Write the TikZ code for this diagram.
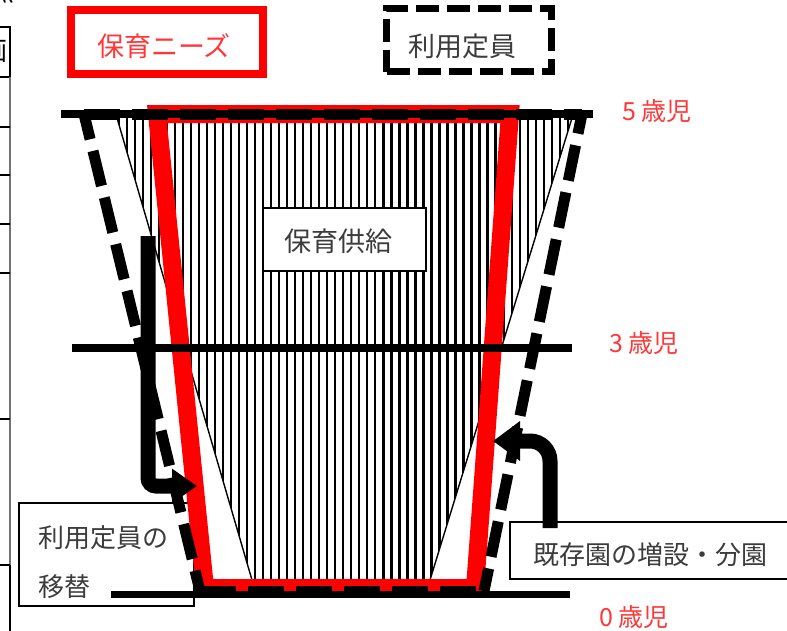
\documentclass[tikz,border=0pt]{standalone}
\usepackage{fontspec}
\setmainfont{Noto Sans CJK JP}
\usetikzlibrary{arrows.meta}
\definecolor{agered}{RGB}{255,55,55}
\definecolor{boxgray}{RGB}{60,60,60}
\definecolor{rulegray}{RGB}{115,115,115}
\tikzset{
  hatchline/.style={line width=2.3pt},
  thinside/.style={line width=1.4pt},
  needline/.style={draw=red, line width=18pt, line join=miter},
  capline/.style={line width=11pt, dash pattern=on 36pt off 12pt},
  agelabel/.style={text=agered, font=\fontsize{25}{30}\selectfont, inner sep=0pt},
  plainbox/.style={draw, line width=1.8pt, fill=white, text=boxgray, inner sep=0pt},
  bigarrow/.style={line width=15pt},
  tablerule/.style={line width=1.3pt},
}
\begin{document}
\begin{tikzpicture}[x=1pt,y=-1pt]
\useasboundingbox (0,0) rectangle (787,630);
\clip (0,0) rectangle (787,630);

% cut-off table at the left edge
\node[font=\fontsize{26}{30}\selectfont, inner sep=0pt] (cutA) at (2,-8) {点};
\node[font=\fontsize{26}{30}\selectfont, inner sep=0pt] (cutB) at (-5,51) {画};
\draw[line width=2pt] (-2,27) -- (10,27) -- (10,77) -- (-2,77);
\draw[rulegray, line width=1.8pt] (10,77) -- (10,565);
\draw[line width=2pt] (10,565) -- (10,632);
\foreach \yy in {127,175,224,273,419,565} \draw[tablerule] (-2,\yy) -- (10,\yy);

% hatched supply trapezoid
\coordinate (hTL) at (117,118);
\coordinate (hTR) at (572,118);
\coordinate (hBR) at (430,580);
\coordinate (hBL) at (252,580);
\begin{scope}
  \clip (hTL) -- (hTR) -- (hBR) -- (hBL) -- cycle;
  \foreach \k in {0,...,57} \draw[hatchline] ({118.7+8.02*\k},100) -- ++(0,500);
\end{scope}
\draw[thinside] (hTL) -- (hBL);
\draw[thinside] (hTR) -- (hBR);

% boxes
\node[draw=red, line width=8pt, minimum width=192pt, minimum height=64pt, inner sep=0pt,
      text=agered, font=\fontsize{27}{30}\selectfont] (needs) at (167,42)
      {\raisebox{-4pt}[\height][\depth]{\kern-6pt 保育ニーズ}};
\node[draw, line width=7pt, dash pattern=on 23pt off 8pt, minimum width=165pt, minimum height=63pt,
      inner sep=0pt, text=boxgray, font=\fontsize{27}{30}\selectfont] (usage) at (469,40)
      {\raisebox{-6pt}[\height][\depth]{\kern-13pt 利用定員}};
\node[plainbox, minimum width=163pt, minimum height=63pt, font=\fontsize{27}{30}\selectfont] (supply) at (344.5,239.5)
      {\raisebox{-1.5pt}[\height][\depth]{\kern-13pt 保育供給}};
\node[plainbox, minimum width=175pt, minimum height=103pt, font=\fontsize{26}{49}\selectfont] (transfer) at (106.5,554.5)
      {\raisebox{-8pt}[\height][\depth]{\parbox{137pt}{\raggedright 利用定員の\\移替}}};
\node[plainbox, minimum width=290pt, minimum height=57pt, font=\fontsize{26}{30}\selectfont] (expand) at (655,550.5)
      {\raisebox{-4.5pt}[\height][\depth]{\kern-10pt 既存園の増設・分園}};

% red needs trapezoid
\coordinate (rTL) at (157,114);
\coordinate (rTR) at (510,114);
\coordinate (rBR) at (475,588);
\coordinate (rBL) at (205,588);
\draw[needline] (rTL) -- (rTR) -- (rBR) -- (rBL) -- cycle;

% age rules
\coordinate (a5L) at (61,114);  \coordinate (a5R) at (593,114);
\coordinate (a3L) at (72,348);  \coordinate (a3R) at (572,348);
\coordinate (a0L) at (111,594); \coordinate (a0R) at (570,594);
\draw[line width=8pt] (a5L) -- (a5R);
\draw[line width=8pt] (a3L) -- (a3R);
\draw[line width=7pt] (a0L) -- (a0R);

% dashed capacity trapezoid
\coordinate (cTL) at (84,114);
\coordinate (cTR) at (582,114);
\coordinate (cBR) at (484,591);
\coordinate (cBL) at (200,591);
\draw[capline] (cTL) -- (cTR);
\draw[capline, dash phase=10pt] (cTL) -- (cBL);
\draw[capline, dash phase=16pt] (cTR) -- (cBR);
\draw[capline] (cBL) -- (cBR);

% arrows
\coordinate (lstart) at (148,236);
\coordinate (lbend) at (148,486);
\coordinate (ltip) at (197,486);
\draw[bigarrow, -{Triangle[length=25pt,width=33pt]}, rounded corners=8pt] (lstart) -- (lbend) -- (ltip);
\coordinate (rstart) at (550,528);
\coordinate (rbend) at (550,441);
\coordinate (rtip) at (493,441);
\draw[bigarrow, -{Triangle[length=27pt,width=38pt]}, rounded corners=20pt] (rstart) -- (rbend) -- (rtip);

% age labels
\node[agelabel] (age5) at (657,111) {5 歳児};
\node[agelabel] (age3) at (644,343) {3 歳児};
\node[agelabel] (age0) at (634,617) {0 歳児};
\end{tikzpicture}
\end{document}
